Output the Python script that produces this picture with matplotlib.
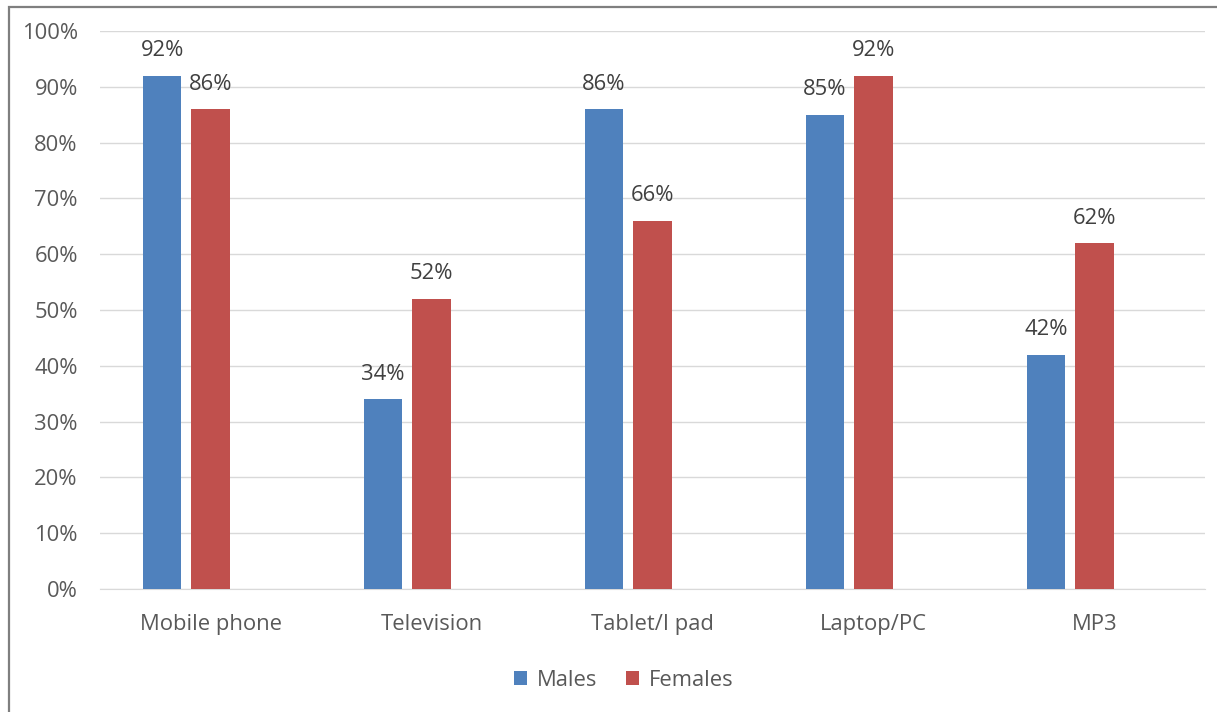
import matplotlib
matplotlib.use("Agg")
import matplotlib.pyplot as plt
from matplotlib.patches import Rectangle
import numpy as np

categories = ["Mobile phone", "Television", "Tablet/I pad", "Laptop/PC", "MP3"]
males = [92, 34, 86, 85, 42]
females = [86, 52, 66, 92, 62]
series_names = ["Males", "Females"]
yticks = [0, 10, 20, 30, 40, 50, 60, 70, 80, 90, 100]

plt.rcParams['font.family'] = ['Open Sans', 'DejaVu Sans']

W, H = 1217, 712
fig = plt.figure(figsize=(W / 100, H / 100), dpi=100)
fig.patch.set_facecolor("white")

# outer frame (only left and top visible in reference)
fig.add_artist(Rectangle((9 / W, -0.1), 1.2, 1 - 7 / H + 0.1, transform=fig.transFigure,
                         fill=False, edgecolor="#7f7f7f", linewidth=1.6))

FS = 15.8
ax = fig.add_axes([100 / W, 1 - 589 / H, (1205 - 100) / W, (589 - 31) / H])
x = np.arange(len(categories))
slot = 0.219
bw = 0.174
blue = "#4F81BD"
red = "#C0504D"
b1 = ax.bar(x - slot, males, bw, color=blue, label=series_names[0], zorder=3)
b2 = ax.bar(x, females, bw, color=red, label=series_names[1], zorder=3)

for bars, vals in ((b1, males), (b2, females)):
    for rect, v in zip(bars, vals):
        ax.annotate(f"{v}%", (rect.get_x() + rect.get_width() / 2, v),
                    xytext=(0, 14), textcoords="offset points", ha="center", va="baseline",
                    fontsize=FS, color="#404040")

ax.set_xlim(-0.5, len(categories) - 0.5)
ax.set_ylim(0, 100)
ax.set_yticks(yticks)
ax.set_yticklabels([f"{t}%" for t in yticks])
ax.set_xticks(x)
ax.set_xticklabels(categories)
ax.grid(axis="y", color="#D9D9D9", linewidth=1, zorder=0)
for s in ["top", "right", "left"]:
    ax.spines[s].set_visible(False)
ax.spines["bottom"].set_color("#D9D9D9")
ax.tick_params(axis="both", length=0, labelsize=FS, labelcolor="#595959")
ax.tick_params(axis="y", pad=16)
ax.tick_params(axis="x", pad=18)

leg = fig.legend(handles=[b1, b2], labels=series_names, loc="center",
                 bbox_to_anchor=(624 / W, 1 - 680 / H), ncol=2, frameon=False,
                 fontsize=FS, handlelength=0.6, handleheight=0.6, handletextpad=0.45,
                 columnspacing=1.3)
for t in leg.get_texts():
    t.set_color("#595959")

fig.savefig("out.png", dpi=100, facecolor="white")
